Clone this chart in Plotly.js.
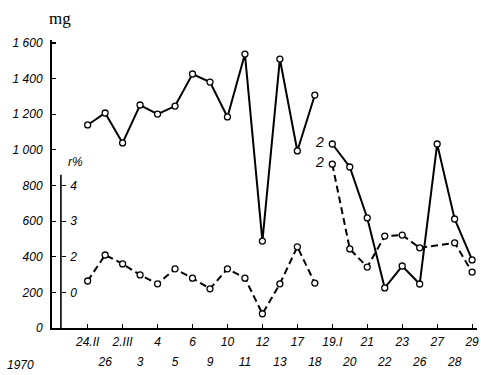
<!DOCTYPE html>
<html>
<head>
<meta charset="utf-8">
<script src="https://cdn.plot.ly/plotly-3.0.1.min.js"></script>
<style>html,body{margin:0;padding:0;background:#fff;}#chart{width:481px;height:375px;}</style>
</head>
<body>
<div id="chart"></div>
<script>
// Dates (one point per date); first 14 = period 1, last 9 = period 2
const dates = ["24.II","26","2.III","3","4","5","6","9","10","11","12","13","17","18",
               "19.I","20","21","22","23","26","27","28","29"];
// Solid line, mg
const mgPeriod1 = [1140,1207,1039,1252,1201,1246,1426,1381,1185,1538,488,1510,994,1308];
const mgPeriod2 = [1033,904,618,225,348,247,1033,612,382];
// Dashed line, r %
const rPeriod1 = [1.32,2.05,1.80,1.49,1.24,1.66,1.40,1.10,1.66,1.40,0.40,1.24,2.28,1.26];
const rPeriod2 = [4.60,2.22,1.71,2.58,2.61,2.25,null,2.39,1.57];
// Axis tick labels
const mgTicks = [0,200,400,600,800,1000,1200,1400,1600];
const mgTickText = ["0","200","400","600","800","1 000","1 200","1 400","1 600"];
const rTicks = [1,2,3,4];
const rTickText = ["0","2","3","4"];
const yearLabel = "1970";

const n1 = mgPeriod1.length;
const idx1 = mgPeriod1.map((_, i) => i);
const idx2 = mgPeriod2.map((_, i) => i + n1);
const allIdx = dates.map((_, i) => i);
const row1 = allIdx.filter(i => i % 2 === 0);
const row2 = allIdx.filter(i => i % 2 === 1);

const solidLine = {color:'#000', width:2};
const dashLine = {color:'#000', width:2, dash:'7px,4px'};
const mk = {symbol:'circle', size:6, color:'#fff', line:{color:'#000', width:1.3}};

const traces = [
  {x: idx1, y: mgPeriod1, xaxis:'x', yaxis:'y', mode:'lines+markers', line: solidLine, marker: mk, cliponaxis:false},
  {x: idx2, y: mgPeriod2, xaxis:'x2', yaxis:'y', mode:'lines+markers', line: solidLine, marker: mk, cliponaxis:false},
  {x: idx1, y: rPeriod1, xaxis:'x', yaxis:'y2', mode:'lines+markers', line: dashLine, marker: mk, cliponaxis:false},
  {x: idx2, y: rPeriod2, xaxis:'x', yaxis:'y2', mode:'lines+markers', line: dashLine, marker: mk, connectgaps:true, cliponaxis:false}
];

const tickFont = {family:'"Liberation Sans", Arial, sans-serif', size:12, color:'#000', style:'italic'};
const xr = [-2.04, 22.28];
const mgRange = [0, 1617];
const rScale = 200;           // 1 r% unit = 200 mg on the drawing
const rAxisTop = 4.3;
const y2pos = 0.021;

const layout = {
  width:481, height:375,
  margin:{l:52, r:4, t:40, b:47, pad:0},
  paper_bgcolor:'#fff', plot_bgcolor:'rgba(0,0,0,0)',
  showlegend:false,
  font: tickFont,
  xaxis:{
    range: xr, anchor:'y', showgrid:false, zeroline:false,
    showline:true, linecolor:'#000', linewidth:2,
    ticks:'inside', ticklen:4, tickwidth:1.2, tickcolor:'#000',
    tickvals: row1, ticktext: row1.map(i => dates[i]),
    tickfont: tickFont, ticklabelstandoff: 2, ticklabeloverflow:'allow'
  },
  xaxis2:{
    range: xr, overlaying:'x', anchor:'y', side:'bottom', showgrid:false, zeroline:false,
    showline:false, ticks:'',
    tickvals: row2, ticktext: row2.map(i => dates[i]),
    tickfont: tickFont, ticklabelstandoff: 25, ticklabeloverflow:'allow'
  },
  yaxis:{
    range: mgRange, domain:[0,1], showgrid:false, zeroline:false,
    showline:true, linecolor:'#000', linewidth:2,
    ticks:'inside', ticklen:4, tickwidth:1.2, tickcolor:'#000',
    tickvals: mgTicks, ticktext: mgTickText,
    tickfont: tickFont, ticklabelstandoff: 5
  },
  yaxis2:{
    range: mgRange.map(v => v / rScale), overlaying:'y', anchor:'free', position: y2pos, side:'right',
    showgrid:false, zeroline:false, showline:false,
    ticks:'outside', ticklen:4, tickwidth:1.2, tickcolor:'#000',
    tickvals: rTicks, ticktext: rTickText,
    tickfont: tickFont, ticklabelstandoff: 2
  },
  shapes:[
    {type:'line', xref:'paper', yref:'y2', x0: y2pos, x1: y2pos, y0: 0, y1: rAxisTop,
     line:{color:'#000', width:1.6}}
  ],
  annotations:[
    {xref:'paper', yref:'paper', x:0.0186, y:1.076, text:'mg', showarrow:false,
     xanchor:'center', yanchor:'middle',
     font:{family:'"Liberation Serif", "DejaVu Serif", serif', size:17, color:'#000', style:'normal'}},
    {xref:'paper', yref:'paper', x:0.056, y:0.576, text:'r%', showarrow:false,
     xanchor:'center', yanchor:'middle', font: tickFont},
    {xref:'paper', yref:'paper', x:-0.0746, y:-0.128, text: yearLabel, showarrow:false,
     xanchor:'center', yanchor:'middle', font: tickFont},
    {xref:'x', yref:'y', x: n1, y: mgPeriod2[0], text:'2', showarrow:false,
     xanchor:'right', yanchor:'middle', xshift:-6, yshift:2, font:{...tickFont, size:14}},
    {xref:'x', yref:'y2', x: n1, y: rPeriod2[0], text:'2', showarrow:false,
     xanchor:'right', yanchor:'middle', xshift:-6, yshift:2, font:{...tickFont, size:14}}
  ]
};

Plotly.newPlot('chart', traces, layout, {displayModeBar:false, staticPlot:true});
</script>
</body>
</html>
